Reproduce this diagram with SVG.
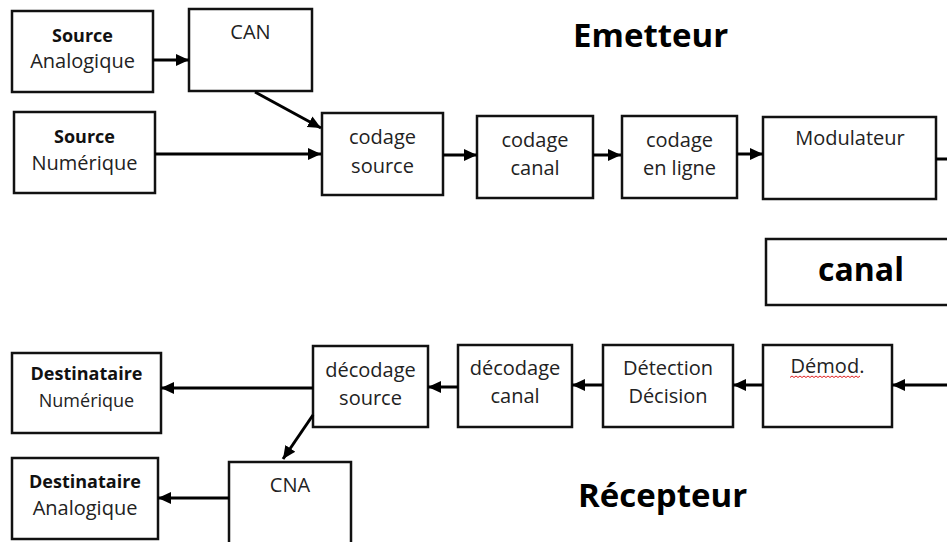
<svg xmlns="http://www.w3.org/2000/svg" width="947" height="542" viewBox="0 0 947 542">
<style>
.box{fill:#fff;stroke:#111;stroke-width:2.5}
.t{font-family:"Open Sans","Noto Sans",sans-serif;font-size:20px;fill:#222;text-anchor:middle}
.s{font-size:18px}
.b{font-weight:bold;fill:#111}
.title{font-family:"Open Sans","Noto Sans",sans-serif;font-weight:bold;font-size:33px;fill:#000}
.c{stroke:#000;stroke-width:3;fill:none}
</style>
<defs>
<marker id="ah" markerUnits="userSpaceOnUse" markerWidth="14" markerHeight="14" viewBox="0 0 14 14" refX="13" refY="7" orient="auto">
<path d="M0,1 L13,7 L0,13 z" fill="#000"/>
</marker>
</defs>
<rect width="947" height="542" fill="#fff"/>
<text class="title" x="573" y="47">Emetteur</text>
<text class="title" x="578" y="507">Récepteur</text>
<g id="source-analogique"><rect class="box" x="12" y="11" width="141" height="81"/><text class="t b s" x="82.5" y="42">Source</text><text class="t" x="82.5" y="68">Analogique</text></g>
<g id="can"><rect class="box" x="189" y="9" width="123" height="82"/><text class="t" x="250.5" y="39">CAN</text></g>
<g id="source-numerique"><rect class="box" x="14" y="112" width="141" height="81"/><text class="t b s" x="84.5" y="143">Source</text><text class="t" x="84.5" y="170">Numérique</text></g>
<g id="codage-source"><rect class="box" x="322" y="113" width="121" height="82"/><text class="t" x="382.5" y="144">codage</text><text class="t" x="382.5" y="173">source</text></g>
<g id="codage-canal"><rect class="box" x="477" y="116" width="116" height="82"/><text class="t" x="535" y="147">codage</text><text class="t" x="535" y="175">canal</text></g>
<g id="codage-ligne"><rect class="box" x="622" y="116" width="115" height="82"/><text class="t" x="679.5" y="147">codage</text><text class="t" x="679.5" y="175">en ligne</text></g>
<g id="modulateur"><rect class="box" x="763" y="117" width="173" height="82"/><text class="t" x="850" y="145">Modulateur</text></g>
<g id="canal"><rect class="box" x="766" y="239" width="190" height="66"/><text class="title" x="861" y="281" text-anchor="middle" style="font-size:32px">canal</text></g>
<g id="demod"><rect class="box" x="763" y="345" width="129" height="82"/><text class="t" x="827.5" y="373">Démod.</text><path d="M790,377.5 l2,-1.5 l2,1.5 l2,-1.5 l2,1.5 l2,-1.5 l2,1.5 l2,-1.5 l2,1.5 l2,-1.5 l2,1.5 l2,-1.5 l2,1.5 l2,-1.5 l2,1.5 l2,-1.5 l2,1.5 l2,-1.5 l2,1.5 l2,-1.5 l2,1.5 l2,-1.5 l2,1.5 l2,-1.5 l2,1.5 l2,-1.5 l2,1.5 l2,-1.5 l2,1.5 l2,-1.5 l2,1.5 l2,-1.5 l2,1.5 l2,-1.5 l2,1.5 l2,-1.5" fill="none" stroke="#e02020" stroke-width="1"/></g>
<g id="detection"><rect class="box" x="603" y="345" width="130" height="82"/><text class="t" x="668" y="375">Détection</text><text class="t" x="668" y="403">Décision</text></g>
<g id="decodage-canal"><rect class="box" x="458" y="345" width="114" height="82"/><text class="t" x="515" y="375">décodage</text><text class="t" x="515" y="403">canal</text></g>
<g id="decodage-source"><rect class="box" x="313" y="346" width="115" height="81"/><text class="t" x="370.5" y="377">décodage</text><text class="t" x="370.5" y="405">source</text></g>
<g id="dest-numerique"><rect class="box" x="12" y="353" width="149" height="80"/><text class="t b s" x="86.5" y="380">Destinataire</text><text class="t s" x="86.5" y="407">Numérique</text></g>
<g id="cna"><rect class="box" x="229" y="462" width="122" height="90"/><text class="t" x="290" y="492">CNA</text></g>
<g id="dest-analogique"><rect class="box" x="12" y="458" width="146" height="81"/><text class="t b s" x="85" y="488">Destinataire</text><text class="t" x="85" y="515">Analogique</text></g>
<g id="connectors">
<line class="c" x1="153" y1="60" x2="189" y2="60" marker-end="url(#ah)"/>
<line class="c" x1="255" y1="92" x2="321" y2="128" marker-end="url(#ah)"/>
<line class="c" x1="155" y1="154" x2="321" y2="154" marker-end="url(#ah)"/>
<line class="c" x1="443" y1="155" x2="477" y2="155" marker-end="url(#ah)"/>
<line class="c" x1="593" y1="155" x2="621" y2="155" marker-end="url(#ah)"/>
<line class="c" x1="737" y1="154" x2="763" y2="154" marker-end="url(#ah)"/>
<line class="c" x1="936" y1="159" x2="947" y2="159"/>
<line class="c" x1="947" y1="385" x2="892" y2="385" marker-end="url(#ah)"/>
<line class="c" x1="763" y1="385" x2="733" y2="385" marker-end="url(#ah)"/>
<line class="c" x1="603" y1="385" x2="572" y2="385" marker-end="url(#ah)"/>
<line class="c" x1="458" y1="387" x2="428" y2="387" marker-end="url(#ah)"/>
<line class="c" x1="313" y1="388" x2="161" y2="388" marker-end="url(#ah)"/>
<line class="c" x1="313" y1="415" x2="283" y2="459" marker-end="url(#ah)"/>
<line class="c" x1="229" y1="498" x2="158" y2="498" marker-end="url(#ah)"/>
</g>
</svg>
